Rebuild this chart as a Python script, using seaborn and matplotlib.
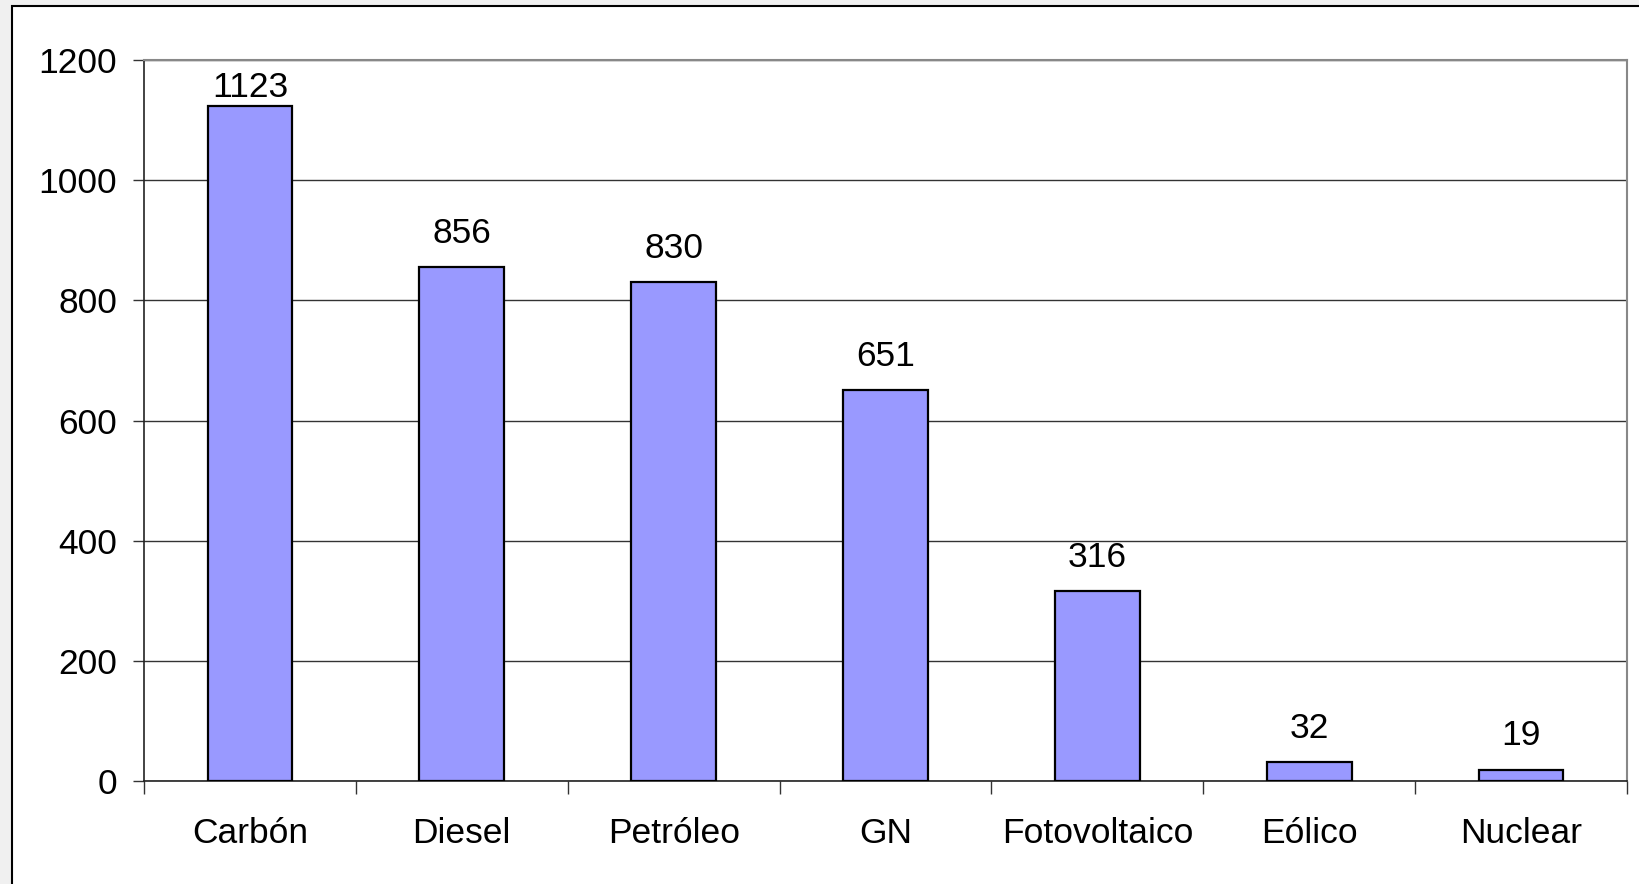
import matplotlib
matplotlib.use("Agg")
import matplotlib.pyplot as plt
import seaborn as sns
import pandas as pd
from matplotlib.patches import Rectangle

# chart values
categories = ['Carbón', 'Diesel', 'Petróleo', 'GN', 'Fotovoltaico', 'Eólico', 'Nuclear']
values = [1123, 856, 830, 651, 316, 32, 19]
y_ticks = [0, 200, 400, 600, 800, 1000, 1200]

df = pd.DataFrame({'fuente': categories, 'valor': values})

sns.set_style('white')
plt.rcParams['font.family'] = ['Liberation Sans', 'DejaVu Sans']
plt.rcParams['text.color'] = 'black'
plt.rcParams['xtick.labelcolor'] = 'black'
plt.rcParams['ytick.labelcolor'] = 'black'

fig = plt.figure(figsize=(16.4, 8.84), dpi=100, facecolor='#f0f0f0')
# white frame around chart (drawn under the axes)
frame = Rectangle((12 / 1640, -0.2), 1.2, 1.2 - 6 / 884,
                  transform=fig.transFigure, facecolor='white',
                  edgecolor='black', linewidth=1.5, zorder=-10)
fig.add_artist(frame)

ax = fig.add_axes([144 / 1640, 1 - 781 / 884, (1627 - 144) / 1640, (781 - 60) / 884])
ax.set_facecolor('white')

sns.barplot(data=df, x='fuente', y='valor', color='#9999FF', width=0.4,
            edgecolor='black', linewidth=1.6, saturation=1, ax=ax, zorder=3)

ax.set_ylim(0, 1200)
ax.set_xlim(-0.5, len(categories) - 0.5)
ax.set_yticks(y_ticks)
ax.set_xlabel('')
ax.set_ylabel('')

# gridlines
ax.yaxis.grid(True, color='#333333', linewidth=1.0)
ax.set_axisbelow(True)

fs = 25.5
# ticks
ax.tick_params(axis='y', direction='out', length=8, width=1, color='#333333',
               pad=11.5, labelsize=fs, labelcolor='black', left=True)
ax.set_xticks(range(len(categories)))
ax.set_xticklabels(categories)
ax.set_xticks([i - 0.5 for i in range(len(categories) + 1)], minor=True)
ax.tick_params(axis='x', which='major', length=0, pad=26, labelsize=fs,
               labelcolor='black')
ax.tick_params(axis='x', which='minor', direction='out', length=9, width=1,
               color='#333333', bottom=True)

for side in ['left', 'bottom']:
    ax.spines[side].set_color('#222222')
    ax.spines[side].set_linewidth(1.2)
for side in ['top', 'right']:
    ax.spines[side].set_color('#888888')
    ax.spines[side].set_linewidth(1.5)

# data labels
for i, v in enumerate(values):
    ax.text(i, min(v + 56, 1155), str(v), ha='center', va='center',
            fontsize=fs, color='black')

fig.savefig('out.png', dpi=100, facecolor=fig.get_facecolor())
